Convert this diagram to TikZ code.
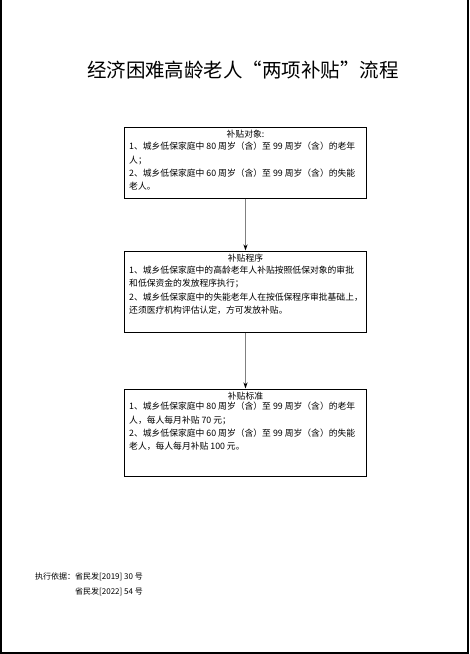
\documentclass[tikz,border=0pt]{standalone}
\usepackage{fontspec}
\newfontfamily\cjk{Noto Sans CJK SC}
\usetikzlibrary{arrows.meta,positioning}
\newcommand{\numgap}{\hspace{2pt}}

\begin{document}
\begin{tikzpicture}[x=1pt, y=-1pt, >={Stealth[black,length=6pt,width=4pt]},
  box/.style={draw, line width=1pt, minimum width=242pt, inner sep=0pt},
  head/.style={font=\cjk\fontsize{8.8}{13.3}\selectfont, inner sep=0pt},
  body/.style={font=\cjk\fontsize{8.8}{13.3}\selectfont, align=left,
    inner sep=0pt, anchor=north west}]
  \useasboundingbox (0,0) rectangle (470,654);
  \draw[line width=1.2pt] (1,0) -- (1,653) -- (468,653) -- (468,0);
  \node[font=\cjk\fontsize{19.5}{22}\selectfont] (title) at (243,70)
    {经济困难高龄老人“两项补贴”流程};

  \node[box, minimum height=71pt] (obj)  at (245.5,162.5) {};
  \node[box, minimum height=81pt] (proc) at (245.5,291.5) {};
  \node[box, minimum height=87pt] (std)  at (245.5,432.5) {};

  \node[head, below=3pt of obj.north]  (objh)  {补贴对象:};
  \node[head, below=3pt of proc.north] (proch) {补贴程序};
  \node[head, below=3pt of std.north]  (stdh)  {补贴标准};

  \node[body] (objt) at (129,142) {1、城乡低保家庭中\numgap{}80\numgap{}周岁（含）至\numgap{}99\numgap{}周岁（含）的老年\\
    人；\\
    2、城乡低保家庭中\numgap{}60\numgap{}周岁（含）至\numgap{}99\numgap{}周岁（含）的失能\\
    老人。};
  \node[body] (proct) at (129,266) {1、城乡低保家庭中的高龄老年人补贴按照低保对象的审批\\
    和低保资金的发放程序执行；\\
    2、城乡低保家庭中的失能老年人在按低保程序审批基础上，\\
    还须医疗机构评估认定，方可发放补贴。};
  \node[body] (stdt) at (129,402) {1、城乡低保家庭中\numgap{}80\numgap{}周岁（含）至\numgap{}99\numgap{}周岁（含）的老年\\
    人，每人每月补贴 70 元；\\
    2、城乡低保家庭中\numgap{}60\numgap{}周岁（含）至\numgap{}99\numgap{}周岁（含）的失能\\
    老人，每人每月补贴 100 元。};

  \foreach \a/\b in {obj/proc, proc/std}
    \draw[->, gray, line width=1pt] (\a) -- (\b);

  \node[body, font=\cjk\fontsize{8}{15}\selectfont] (basis) at (35,573)
    {执行依据：省民发[2019] 30 号\\
    \phantom{执行依据：}省民发[2022] 54 号};
\end{tikzpicture}
\end{document}
